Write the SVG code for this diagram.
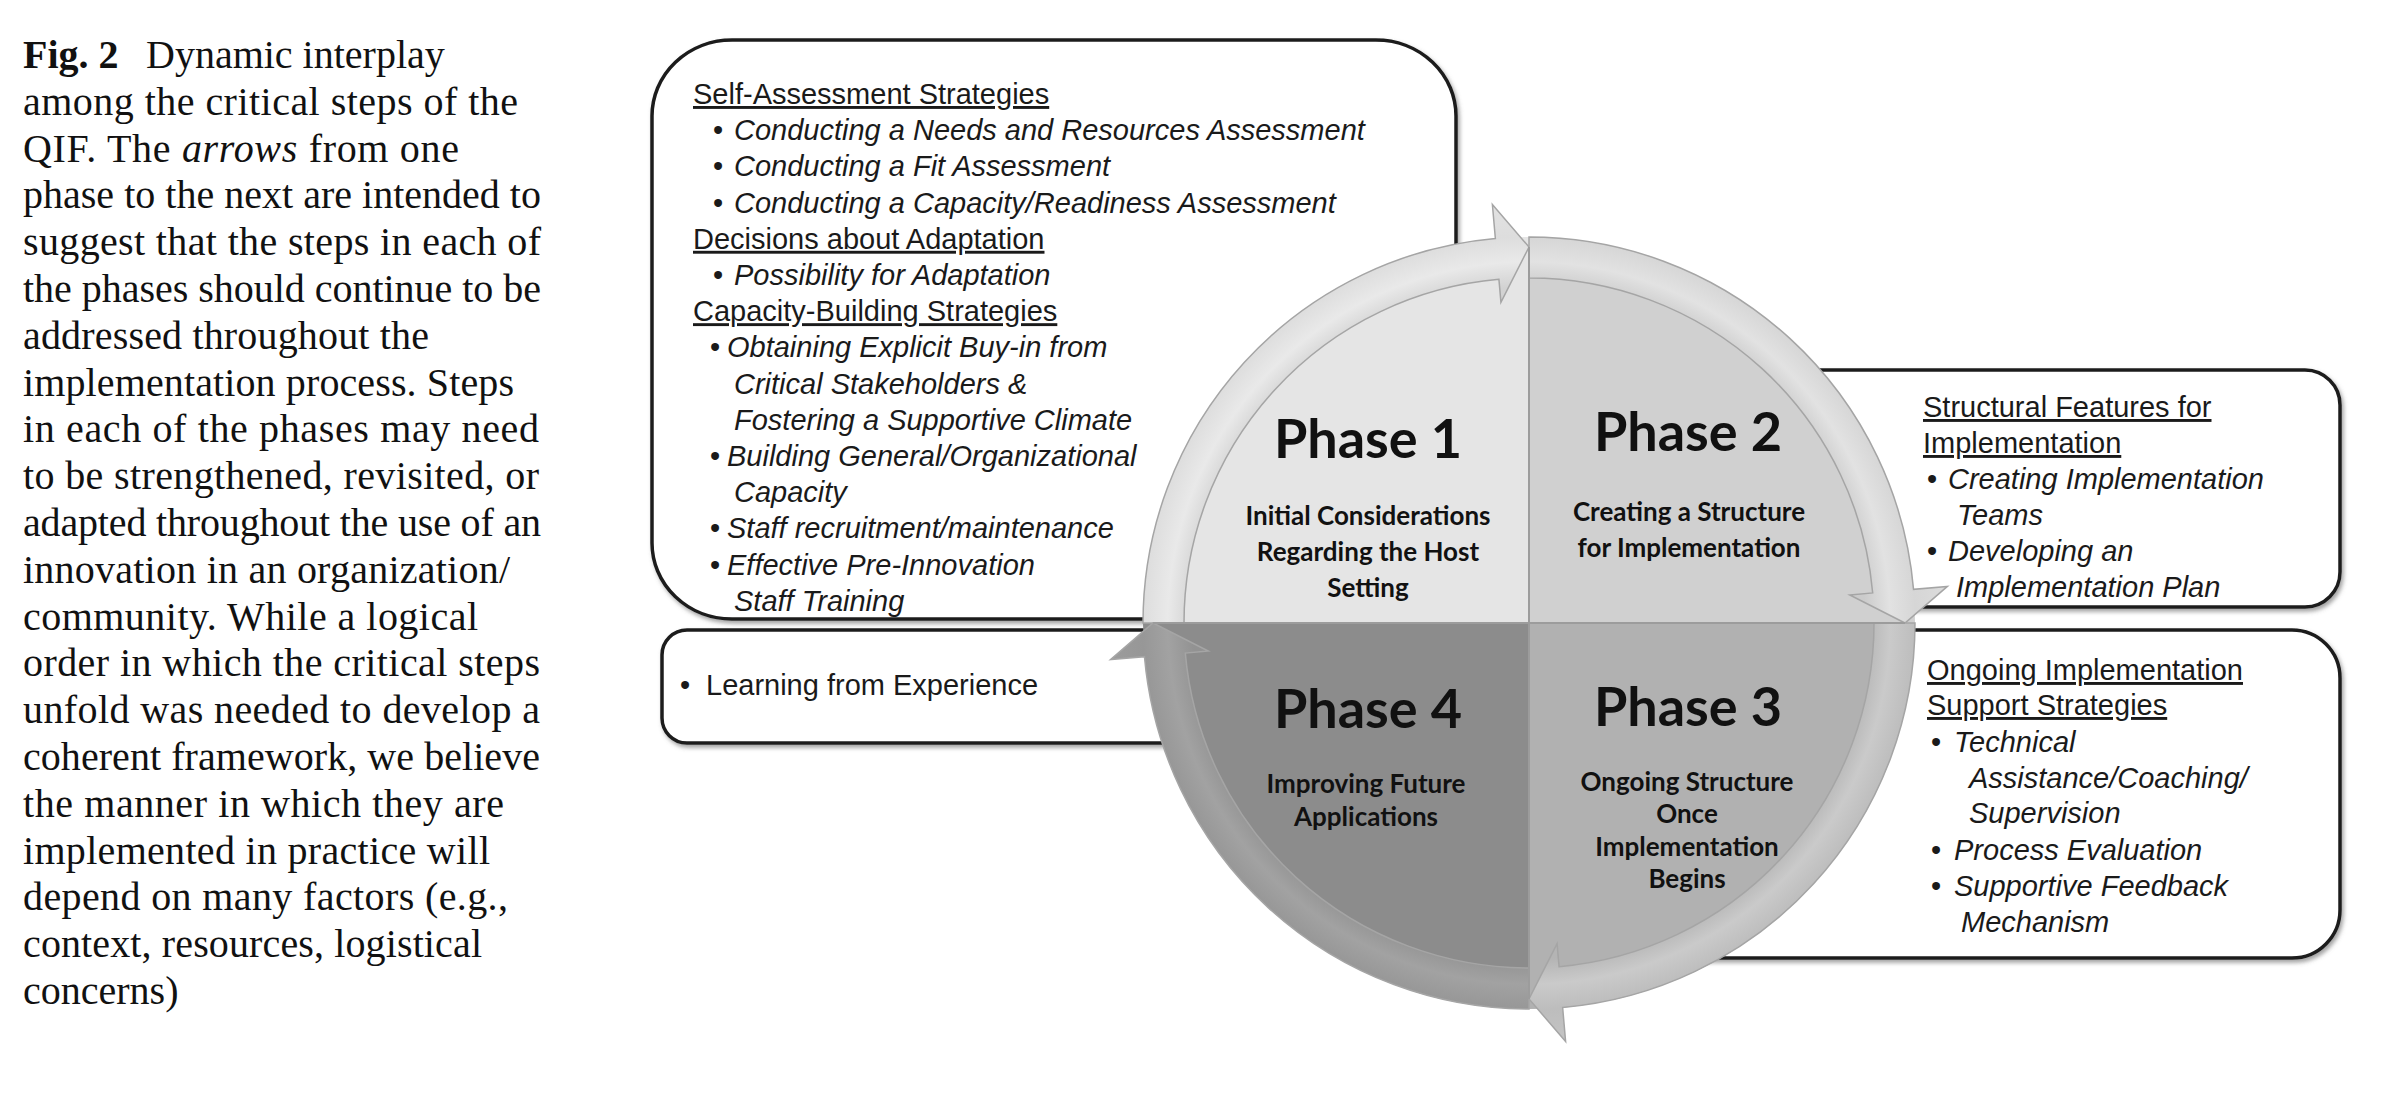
<svg xmlns="http://www.w3.org/2000/svg" width="2388" height="1098" viewBox="0 0 2388 1098">
<defs>
<style>
.cap{font-family:"Liberation Serif","Times New Roman",serif;font-size:40px;fill:#111}
.bx{fill:#fff;stroke:#1c1c1c;stroke-width:3.5}
.bt{font-family:"Liberation Sans",Arial,sans-serif;font-size:29px;fill:#1a1a1a}
.hd{text-decoration:underline}
.it{font-style:italic}
.ph{font-family:Lato,"Open Sans",sans-serif;font-weight:bold;font-size:54px;fill:#111;text-anchor:middle}
.sub{font-family:Lato,"Open Sans",sans-serif;font-weight:bold;font-size:26px;fill:#111;text-anchor:middle}
.ring{stroke:#a5a5a5;stroke-width:1.5}
.div{stroke:#9c9c9c;stroke-width:2}
</style>
<filter id="sh" x="-5%" y="-5%" width="110%" height="115%"><feDropShadow dx="2" dy="3" stdDeviation="2" flood-color="#666" flood-opacity="0.6"/></filter>
<radialGradient id="g1" gradientUnits="userSpaceOnUse" cx="1529" cy="623" r="420">
<stop offset="0.8" stop-color="#d2d2d2"/><stop offset="0.86" stop-color="#e9e9e9"/><stop offset="0.92" stop-color="#dddddd"/><stop offset="1" stop-color="#e2e2e2"/>
</radialGradient>
<radialGradient id="g2" gradientUnits="userSpaceOnUse" cx="1529" cy="623" r="420">
<stop offset="0.8" stop-color="#cbcbcb"/><stop offset="0.86" stop-color="#e2e2e2"/><stop offset="0.92" stop-color="#d6d6d6"/><stop offset="1" stop-color="#dcdcdc"/>
</radialGradient>
<radialGradient id="g3" gradientUnits="userSpaceOnUse" cx="1529" cy="623" r="420">
<stop offset="0.8" stop-color="#b4b4b4"/><stop offset="0.86" stop-color="#cacaca"/><stop offset="0.92" stop-color="#bdbdbd"/><stop offset="1" stop-color="#c4c4c4"/>
</radialGradient>
<radialGradient id="g4" gradientUnits="userSpaceOnUse" cx="1529" cy="623" r="420">
<stop offset="0.8" stop-color="#929292"/><stop offset="0.86" stop-color="#a2a2a2"/><stop offset="0.92" stop-color="#979797"/><stop offset="1" stop-color="#9c9c9c"/>
</radialGradient>
</defs>
<rect width="2388" height="1098" fill="#fff"/>

<g id="caption" class="cap">
<text y="68"><tspan x="23" font-weight="bold">Fig. 2</tspan><tspan x="146">Dynamic interplay</tspan></text>
<text x="23" y="114.8" textLength="495" lengthAdjust="spacing">among the critical steps of the</text>
<text x="23" y="161.6" textLength="436" lengthAdjust="spacing">QIF. The <tspan font-style="italic">arrows</tspan> from one</text>
<text x="23" y="208.4" textLength="518" lengthAdjust="spacing">phase to the next are intended to</text>
<text x="23" y="255.2" textLength="518" lengthAdjust="spacing">suggest that the steps in each of</text>
<text x="23" y="302" textLength="518" lengthAdjust="spacing">the phases should continue to be</text>
<text x="23" y="348.8" textLength="406" lengthAdjust="spacing">addressed throughout the</text>
<text x="23" y="395.6" textLength="491" lengthAdjust="spacing">implementation process. Steps</text>
<text x="23" y="442.4" textLength="516" lengthAdjust="spacing">in each of the phases may need</text>
<text x="23" y="489.2" textLength="516" lengthAdjust="spacing">to be strengthened, revisited, or</text>
<text x="23" y="536" textLength="518" lengthAdjust="spacing">adapted throughout the use of an</text>
<text x="23" y="582.8" textLength="487" lengthAdjust="spacing">innovation in an organization/</text>
<text x="23" y="629.6" textLength="455" lengthAdjust="spacing">community. While a logical</text>
<text x="23" y="676.4" textLength="517" lengthAdjust="spacing">order in which the critical steps</text>
<text x="23" y="723.2" textLength="517" lengthAdjust="spacing">unfold was needed to develop a</text>
<text x="23" y="770" textLength="517" lengthAdjust="spacing">coherent framework, we believe</text>
<text x="23" y="816.8" textLength="481" lengthAdjust="spacing">the manner in which they are</text>
<text x="23" y="863.6" textLength="467" lengthAdjust="spacing">implemented in practice will</text>
<text x="23" y="910.4" textLength="485" lengthAdjust="spacing">depend on many factors (e.g.,</text>
<text x="23" y="957.2" textLength="459" lengthAdjust="spacing">context, resources, logistical</text>
<text x="23" y="1004">concerns)</text>
</g>

<g id="box-phase1" class="bt">
<rect class="bx" filter="url(#sh)" x="652" y="40" width="804" height="579" rx="80" ry="76"/>
<text x="693" y="104" class="hd">Self-Assessment Strategies</text>
<text x="713" y="140.2">•</text><text x="734" y="140.2" class="it">Conducting a Needs and Resources Assessment</text>
<text x="713" y="176.4">•</text><text x="734" y="176.4" class="it">Conducting a Fit Assessment</text>
<text x="713" y="212.6">•</text><text x="734" y="212.6" class="it">Conducting a Capacity/Readiness Assessment</text>
<text x="693" y="248.8" class="hd">Decisions about Adaptation</text>
<text x="713" y="285">•</text><text x="734" y="285" class="it">Possibility for Adaptation</text>
<text x="693" y="321.2" class="hd">Capacity-Building Strategies</text>
<text x="710" y="357.4">•</text><text x="727" y="357.4" class="it">Obtaining Explicit Buy-in from</text>
<text x="734" y="393.6" class="it">Critical Stakeholders &amp;</text>
<text x="734" y="429.8" class="it">Fostering a Supportive Climate</text>
<text x="710" y="466">•</text><text x="727" y="466" class="it">Building General/Organizational</text>
<text x="734" y="502.2" class="it">Capacity</text>
<text x="710" y="538.4">•</text><text x="727" y="538.4" class="it">Staff recruitment/maintenance</text>
<text x="710" y="574.6">•</text><text x="727" y="574.6" class="it">Effective Pre-Innovation</text>
<text x="734" y="610.8" class="it">Staff Training</text>
</g>

<g id="box-phase4" class="bt">
<rect class="bx" filter="url(#sh)" x="662" y="630" width="738" height="113" rx="25"/>
<text x="680" y="695">•</text><text x="706" y="695">Learning from Experience</text>
</g>

<g id="box-phase2" class="bt">
<rect class="bx" filter="url(#sh)" x="1600" y="370" width="740" height="237" rx="35"/>
<text x="1923" y="417" class="hd">Structural Features for</text>
<text x="1923" y="453" class="hd">Implementation</text>
<text x="1927" y="489">•</text><text x="1948" y="489" class="it">Creating Implementation</text>
<text x="1957" y="525" class="it">Teams</text>
<text x="1927" y="561">•</text><text x="1948" y="561" class="it">Developing an</text>
<text x="1956" y="597" class="it">Implementation Plan</text>
</g>

<g id="box-phase3" class="bt">
<rect class="bx" filter="url(#sh)" x="1600" y="630" width="740" height="328" rx="48"/>
<text x="1927" y="680" class="hd">Ongoing Implementation</text>
<text x="1927" y="715" class="hd">Support Strategies</text>
<text x="1931" y="752">•</text><text x="1954" y="752" class="it">Technical</text>
<text x="1969" y="788" class="it">Assistance/Coaching/</text>
<text x="1969" y="823" class="it">Supervision</text>
<text x="1931" y="860">•</text><text x="1954" y="860" class="it">Process Evaluation</text>
<text x="1931" y="896">•</text><text x="1954" y="896" class="it">Supportive Feedback</text>
<text x="1961" y="932" class="it">Mechanism</text>
</g>

<g id="phase1">
<path d="M1529,623 L1143,623 A386,386 0 0 1 1529,237 Z" fill="#e5e5e5"/>
</g>
<g id="phase2">
<path d="M1529,623 L1529,237 A386,386 0 0 1 1915,623 Z" fill="#d0d0d0"/>
</g>
<g id="phase3">
<path d="M1529,623 L1915,623 A386,386 0 0 1 1529,1009 Z" fill="#b1b1b1"/>
</g>
<g id="phase4">
<path d="M1529,623 L1529,1009 A386,386 0 0 1 1143,623 Z" fill="#8c8c8c"/>
</g>

<g id="connectors" class="ring">
<path d="M1143,623 A386,386 0 0 1 1495.36,238.47 L1492.39,204.60 L1529,247 L1500.93,302.23 L1498.93,279.31 A345,345 0 0 0 1184,623 Z" fill="url(#g1)"/>
<path d="M1529,237 A386,386 0 0 1 1913.53,589.36 L1947.40,586.39 L1905,623 L1849.77,594.93 L1872.69,592.93 A345,345 0 0 0 1529,278 Z" fill="url(#g2)"/>
<path d="M1915,623 A386,386 0 0 1 1562.64,1007.53 L1565.61,1041.40 L1529,999 L1557.07,943.77 L1559.07,966.69 A345,345 0 0 0 1874,623 Z" fill="url(#g3)"/>
<path d="M1529,1009 A386,386 0 0 1 1144.47,656.64 L1110.60,659.61 L1153,623 L1208.23,651.07 L1185.31,653.07 A345,345 0 0 0 1529,968 Z" fill="url(#g4)"/>
<line class="div" x1="1529" y1="247" x2="1529" y2="999"/>
<line class="div" x1="1153" y1="623" x2="1905" y2="623"/>
</g>

<g id="labels">
<text class="ph" x="1368" y="458">Phase 1</text>
<text class="sub" x="1368" y="525">Initial Considerations</text>
<text class="sub" x="1368" y="561">Regarding the Host</text>
<text class="sub" x="1368" y="597">Setting</text>
<text class="ph" x="1688" y="451">Phase 2</text>
<text class="sub" x="1689" y="521">Creating a Structure</text>
<text class="sub" x="1689" y="557">for Implementation</text>
<text class="ph" x="1368" y="728">Phase 4</text>
<text class="sub" x="1366" y="793">Improving Future</text>
<text class="sub" x="1366" y="826">Applications</text>
<text class="ph" x="1688" y="726">Phase 3</text>
<text class="sub" x="1687" y="791">Ongoing Structure</text>
<text class="sub" x="1687" y="823">Once</text>
<text class="sub" x="1687" y="856">Implementation</text>
<text class="sub" x="1687" y="888">Begins</text>
</g>
</svg>
